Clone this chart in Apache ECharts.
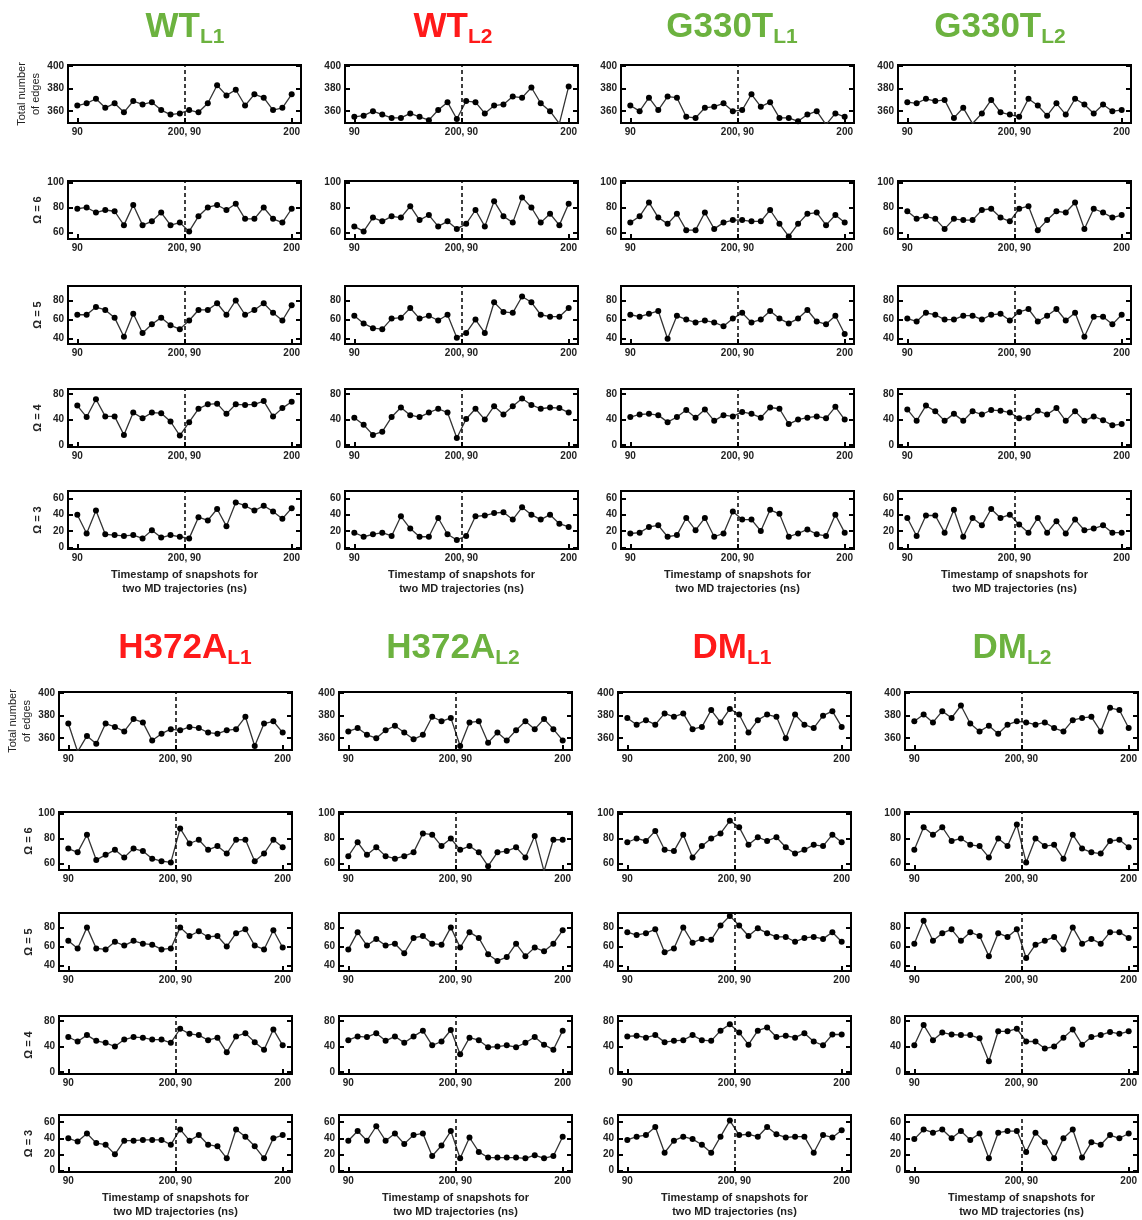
<!DOCTYPE html>
<html><head><meta charset="utf-8">
<script src="https://cdn.jsdelivr.net/npm/echarts@6/dist/echarts.min.js"></script>
<style>html,body{margin:0;padding:0;background:#fff}#c{width:1142px;height:1220px}</style>
</head><body><div id="c"></div>
<script>
// ---------- text ----------
const titleMain = ['WT','WT','G330T','G330T','H372A','H372A','DM','DM'];
const titleSub  = ['L1','L2','L1','L2','L1','L2','L1','L2'];
const rowLabels = ['Total number\nof edges','Ω = 6','Ω = 5','Ω = 4','Ω = 3'];
const xTickLabels = ['90','200, 90','200'];
const xAxisTitle = 'Timestamp of snapshots for\ntwo MD trajectories (ns)';
const yTickValues = [[360,380,400],[60,80,100],[40,60,80],[0,40,80],[0,20,40,60]];
const nPerTrajectory = 12; // snapshots 90..200 ns for each of the two trajectories

// ---------- data (24 snapshots: trajectory 1 then trajectory 2) ----------
const wtL1_edges = [365,367,371,363,367,359,369,366,368,361,357,358, 361,359,367,383,374,379,365,375,372,361,363,375];
const wtL1_w6 = [79,80,76,78,77,66,82,66,69,76,66,68, 61,73,80,82,78,83,71,71,80,71,68,79];
const wtL1_w5 = [65,65,73,70,62,42,66,46,55,62,54,50, 59,70,70,77,65,80,65,70,77,67,59,75];
const wtL1_w4 = [62,44,72,45,45,16,51,42,51,50,37,15, 36,57,64,65,49,64,63,64,69,45,58,68];
const wtL1_w3 = [40,17,45,16,15,14,15,11,21,12,15,13, 11,37,33,47,26,55,51,45,51,44,35,48];

const wtL2_edges = [355,356,360,357,354,354,358,355,352,361,368,353, 369,368,358,365,366,373,372,381,367,360,349,382];
const wtL2_w6 = [65,61,72,69,73,72,81,70,74,65,69,63, 67,78,65,85,73,68,88,80,68,75,66,83];
const wtL2_w5 = [64,56,51,50,61,62,72,61,64,59,65,41, 46,60,46,78,68,67,84,78,65,63,63,72];
const wtL2_w4 = [43,32,16,21,44,59,47,44,51,57,51,11, 41,57,40,61,48,61,73,63,57,59,58,51];
const wtL2_w3 = [18,13,16,18,14,38,23,13,13,36,16,9, 14,38,39,42,43,34,49,40,34,40,29,25];

const g330tL1_edges = [365,360,372,361,373,372,355,354,363,364,367,360, 361,375,364,368,354,354,351,357,360,348,358,355];
const g330tL1_w6 = [68,73,84,72,67,75,62,62,76,63,68,70, 70,69,69,78,67,57,67,75,76,66,74,68];
const g330tL1_w5 = [65,63,66,69,40,64,60,57,59,57,53,61, 67,57,60,69,61,56,61,70,58,55,64,45];
const g330tL1_w4 = [44,48,49,47,36,44,55,43,56,38,47,45, 52,49,43,59,57,33,40,43,45,42,60,40];
const g330tL1_w3 = [17,18,25,27,13,15,36,21,36,13,17,44, 34,34,20,46,41,13,17,22,16,14,40,18];

const g330tL2_edges = [368,367,371,369,370,354,363,349,358,370,359,357, 355,371,365,356,367,357,371,366,358,366,360,361];
const g330tL2_w6 = [77,71,73,71,63,71,70,70,78,79,72,69, 79,81,62,70,77,76,84,63,79,76,72,74];
const g330tL2_w5 = [61,58,67,65,60,60,64,64,60,65,66,59, 68,71,58,64,71,59,67,42,63,63,55,65];
const g330tL2_w4 = [56,38,62,53,38,49,38,53,48,55,54,51, 42,43,54,48,58,38,53,38,45,39,31,33];
const g330tL2_w3 = [36,14,39,39,18,46,13,36,27,47,36,40, 28,18,36,18,32,17,34,21,23,27,18,18];

const h372aL1_edges = [373,348,362,355,373,370,366,377,374,358,364,368, 367,370,369,365,364,367,368,379,353,373,375,365];
const h372aL1_w6 = [72,69,83,63,67,71,65,72,70,64,62,61, 88,76,79,71,74,68,79,79,62,68,79,73];
const h372aL1_w5 = [66,58,80,58,57,65,61,66,63,62,57,58, 80,71,76,70,71,60,74,78,61,57,77,59];
const h372aL1_w4 = [55,48,58,49,46,40,51,55,54,51,51,46, 68,60,58,50,54,31,56,61,47,35,67,42];
const h372aL1_w3 = [40,36,46,34,32,20,37,37,38,38,38,32, 51,37,44,32,30,15,51,42,30,15,40,44];

const h372aL2_edges = [366,369,363,360,367,371,365,359,363,379,375,378, 353,374,375,356,365,358,367,375,368,377,368,358];
const h372aL2_w6 = [66,77,67,73,66,64,66,69,84,83,74,80, 71,74,69,58,69,70,73,65,82,54,79,79];
const h372aL2_w5 = [57,75,61,68,61,63,53,69,71,63,62,80, 59,75,69,52,45,49,63,50,59,55,63,77];
const h372aL2_w4 = [50,56,55,61,49,56,46,56,65,42,48,66, 28,54,50,39,40,42,39,46,55,43,35,65];
const h372aL2_w3 = [37,49,37,55,37,46,33,44,46,18,31,49, 15,41,23,16,16,16,16,15,19,15,18,42];

const dmL1_edges = [378,372,376,372,382,379,382,368,370,385,374,386, 381,365,376,381,379,360,381,372,369,380,384,370];
const dmL1_w6 = [77,80,78,86,71,70,83,65,74,80,84,94, 89,75,81,78,81,73,68,71,75,74,83,77];
const dmL1_w5 = [75,72,74,78,54,58,80,64,68,67,82,92, 82,71,79,74,70,70,65,69,70,68,75,65];
const dmL1_w4 = [56,57,54,58,47,49,50,58,50,49,65,75, 62,43,65,70,55,57,54,61,48,42,59,59];
const dmL1_w3 = [38,42,44,54,22,37,42,39,32,22,42,62, 44,45,42,54,45,41,42,42,22,44,41,50];

const dmL2_edges = [375,381,374,384,378,389,373,366,371,364,372,375, 374,372,374,369,366,376,378,379,366,387,385,369];
const dmL2_w6 = [71,89,83,89,78,80,75,74,65,80,74,91, 61,80,74,75,64,83,72,69,68,78,79,73];
const dmL2_w5 = [63,87,66,74,78,66,75,71,50,74,70,78, 48,62,66,70,57,80,63,68,63,75,75,69];
const dmL2_w4 = [42,74,50,62,59,58,58,53,17,64,64,68, 48,48,37,40,54,67,43,55,58,63,60,64];
const dmL2_w3 = [39,51,47,51,40,49,38,46,15,47,49,49, 23,47,35,15,40,51,16,35,32,44,40,46];

const panelSeries = [
  [wtL1_edges, wtL1_w6, wtL1_w5, wtL1_w4, wtL1_w3],
  [wtL2_edges, wtL2_w6, wtL2_w5, wtL2_w4, wtL2_w3],
  [g330tL1_edges, g330tL1_w6, g330tL1_w5, g330tL1_w4, g330tL1_w3],
  [g330tL2_edges, g330tL2_w6, g330tL2_w5, g330tL2_w4, g330tL2_w3],
  [h372aL1_edges, h372aL1_w6, h372aL1_w5, h372aL1_w4, h372aL1_w3],
  [h372aL2_edges, h372aL2_w6, h372aL2_w5, h372aL2_w4, h372aL2_w3],
  [dmL1_edges, dmL1_w6, dmL1_w5, dmL1_w4, dmL1_w3],
  [dmL2_edges, dmL2_w6, dmL2_w5, dmL2_w4, dmL2_w3]
];

// ---------- layout / style ----------
const FONT = 'Liberation Sans, Arial, sans-serif';
const GREEN = '#6cb23f', RED = '#ff1a1a';
const titleColors = [GREEN, RED, GREEN, GREEN, RED, GREEN, RED, GREEN];
const titleCenterX = [185, 453, 732, 1000, 185, 453, 732, 1012];
const titleTopY = [10, 631];
const colLeft = [[68, 345, 621, 898], [59, 339, 618, 905]];
const rowTop = [[65, 181, 286, 389, 491], [692, 812, 913, 1016, 1115]];
const gridW = 233, gridH = 58;
const yRange = [[349.5, 401], [55, 101], [34.5, 95], [-3, 88], [-2, 69]];

const n = nPerTrajectory * 2;
const xTickPos = [0, nPerTrajectory - 0.5, n - 1];
const xLabelFor = v => {
  for (let k = 0; k < xTickPos.length; k++) if (Math.abs(v - xTickPos[k]) < 1e-6) return xTickLabels[k];
  return '';
};

const option = {
  backgroundColor: '#fff',
  animation: false,
  title: [], grid: [], xAxis: [], yAxis: [], series: []
};

for (let p = 0; p < 8; p++) {
  const half = p < 4 ? 0 : 1, col = p % 4;
  option.title.push({
    text: '{a|' + titleMain[p] + '}{b|' + titleSub[p] + '}',
    left: titleCenterX[p], top: titleTopY[half], padding: 0,
    textAlign: 'center', textVerticalAlign: 'top',
    textStyle: {
      rich: {
        a: { fontSize: 35, fontWeight: 'bold', color: titleColors[p], fontFamily: FONT, lineHeight: 35 },
        b: { fontSize: 21, fontWeight: 'bold', color: titleColors[p], fontFamily: FONT, lineHeight: 21,
             padding: [17, 0, 0, 0], verticalAlign: 'top' }
      }
    }
  });
  for (let r = 0; r < 5; r++) {
    const gi = option.grid.length;
    option.grid.push({
      left: colLeft[half][col], top: rowTop[half][r], width: gridW, height: gridH,
      show: true, borderColor: '#000', borderWidth: 2, backgroundColor: 'transparent'
    });
    option.xAxis.push({
      gridIndex: gi, type: 'value', min: -1, max: n, position: 'bottom',
      axisLine: { show: false, onZero: false }, splitLine: { show: false },
      axisTick: { show: true, inside: true, length: 5, lineStyle: { color: '#000', width: 2 }, customValues: xTickPos },
      axisLabel: { show: true, customValues: xTickPos, formatter: xLabelFor, fontSize: 10, fontWeight: 'bold',
                   color: '#222', margin: 4, fontFamily: FONT },
      name: r === 4 ? xAxisTitle : '', nameLocation: 'middle', nameGap: 19,
      nameTextStyle: { fontSize: 11, fontWeight: 'bold', color: '#222', fontFamily: FONT, lineHeight: 14, verticalAlign: 'top' }
    });
    const common = {
      gridIndex: gi, type: 'value', min: yRange[r][0], max: yRange[r][1],
      axisLine: { show: false, onZero: false }, splitLine: { show: false },
      axisTick: { show: true, inside: true, length: 5, lineStyle: { color: '#000', width: 2 }, customValues: yTickValues[r] }
    };
    option.yAxis.push(Object.assign({}, common, {
      position: 'left',
      axisLabel: { show: true, customValues: yTickValues[r], fontSize: 10, fontWeight: 'bold', color: '#222', margin: 4, fontFamily: FONT },
      name: col === 0 ? rowLabels[r] : '', nameLocation: 'middle', nameRotate: 90, nameGap: 25,
      nameTextStyle: r === 0
        ? { fontSize: 11, fontWeight: 'normal', color: '#222', fontFamily: FONT, lineHeight: 14 }
        : { fontSize: 11, fontWeight: 'bold', color: '#222', fontFamily: FONT }
    }));
    option.yAxis.push(Object.assign({}, common, { position: 'right', axisLabel: { show: false } }));
    const vals = panelSeries[p][r];
    option.series.push({
      type: 'line', xAxisIndex: gi, yAxisIndex: 2 * gi,
      data: vals.map((v, k) => [k, v]),
      symbol: 'circle', symbolSize: 6, showSymbol: true,
      itemStyle: { color: '#000' },
      lineStyle: { color: '#333', width: 1.3 },
      clip: true, silent: true,
      markLine: {
        silent: true, symbol: ['none', 'none'], label: { show: false },
        lineStyle: { type: [4, 3], color: '#000', width: 1.5 },
        data: [{ xAxis: nPerTrajectory - 0.5 }]
      }
    });
  }
}

const chart = echarts.init(document.getElementById('c'), null, { renderer: 'canvas' });
chart.setOption(option);
</script></body></html>
